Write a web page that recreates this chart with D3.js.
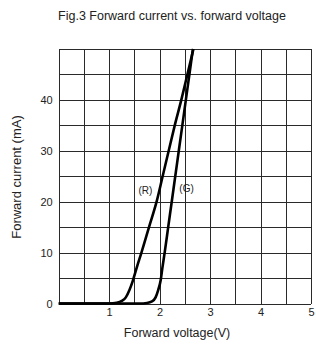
<!DOCTYPE html>
<head>
  <meta charset="utf-8">
  <style>
    body { margin: 0; background: #fff; }
    svg text { font-family: "Liberation Sans", Arial, sans-serif; fill: #222; }
    .grid line { stroke: #2a2a2a; shape-rendering: crispEdges; }
    .grid path { display: none; }
    .axis path, .axis line { display: none; }
    .axis text { font-size: 11px; }
  </style>
  <script src="https://d3js.org/d3.v7.min.js" charset="utf-8"></script>
</head>
<body>
  <script>
    // forward voltage (V) / forward current (mA)
    const redV = [0, 1.0, 1.15, 1.25, 1.33, 1.4, 1.47, 1.56, 1.64, 1.79, 1.94, 2.06, 2.18, 2.30, 2.43, 2.55, 2.67];
    const redI = [0, 0, 0.15, 0.5, 1.2, 2.6, 4.5, 7.5, 10, 15, 20, 25, 30, 35, 40, 45, 50];
    const greenV = [0, 1.6, 1.75, 1.85, 1.92, 1.97, 2.02, 2.055, 2.10, 2.17, 2.24, 2.31, 2.38, 2.45, 2.52, 2.59, 2.66];
    const greenI = [0, 0, 0.1, 0.4, 1.2, 2.6, 4.5, 7, 10, 15, 20, 25, 30, 35, 40, 45, 50];
    const xTicks = [1, 2, 3, 4, 5];
    const yTicks = [0, 10, 20, 30, 40];

    const w = 316, h = 345;
    const pLeft = 58.7, pRight = 311, pTop = 49, pBottom = 303.5;

    const svg = d3.select('body').append('svg')
      .attr('width', w)
      .attr('height', h);

    const x = d3.scaleLinear().domain([0, 5]).range([pLeft, pRight]);
    const y = d3.scaleLinear().domain([0, 50]).range([pBottom, pTop]);

    // grid every 0.5 V and 5 mA
    svg.append('g')
      .attr('class', 'grid')
      .attr('transform', `translate(0, ${pBottom})`)
      .call(d3.axisBottom(x).tickValues(d3.range(0, 5.01, 0.5)).tickSize(-(pBottom - pTop)).tickFormat(''));

    svg.append('g')
      .attr('class', 'grid')
      .attr('transform', `translate(${pLeft}, 0)`)
      .call(d3.axisLeft(y).tickValues(d3.range(0, 50.01, 5)).tickSize(-(pRight - pLeft)).tickFormat(''));

    svg.append('g')
      .attr('class', 'x axis')
      .attr('transform', `translate(0, ${pBottom})`)
      .call(d3.axisBottom(x).tickValues(xTicks).tickFormat(d3.format('d')).tickSize(0).tickPadding(5));

    svg.append('g')
      .attr('class', 'y axis')
      .attr('transform', `translate(${pLeft}, 0)`)
      .call(d3.axisLeft(y).tickValues(yTicks).tickFormat(d3.format('d')).tickSize(0).tickPadding(6));

    const line = d3.line()
      .x(d => x(d[0]))
      .y(d => y(d[1]))
      .curve(d3.curveMonotoneX);

    [[redV, redI], [greenV, greenI]].forEach(([vs, is]) => {
      svg.append('path')
        .datum(vs.map((v, i) => [v, is[i]]))
        .attr('fill', 'none')
        .attr('stroke', '#000')
        .attr('stroke-width', 2.6)
        .attr('d', line);
    });

    svg.append('text')
      .attr('x', x(1.58))
      .attr('y', y(21.5))
      .attr('font-size', '10px')
      .text('(R)');

    svg.append('text')
      .attr('x', x(2.39))
      .attr('y', y(22))
      .attr('font-size', '10px')
      .text('(G)');

    svg.append('text')
      .attr('x', 172)
      .attr('y', 20)
      .attr('text-anchor', 'middle')
      .attr('font-size', '12.5px')
      .text('Fig.3 Forward current vs. forward voltage');

    svg.append('text')
      .attr('x', 177)
      .attr('y', 337)
      .attr('text-anchor', 'middle')
      .attr('font-size', '12.5px')
      .text('Forward voltage(V)');

    svg.append('text')
      .attr('transform', 'translate(21, 177) rotate(-90)')
      .attr('text-anchor', 'middle')
      .attr('font-size', '13px')
      .text('Forward current (mA)');
  </script>
</body>
